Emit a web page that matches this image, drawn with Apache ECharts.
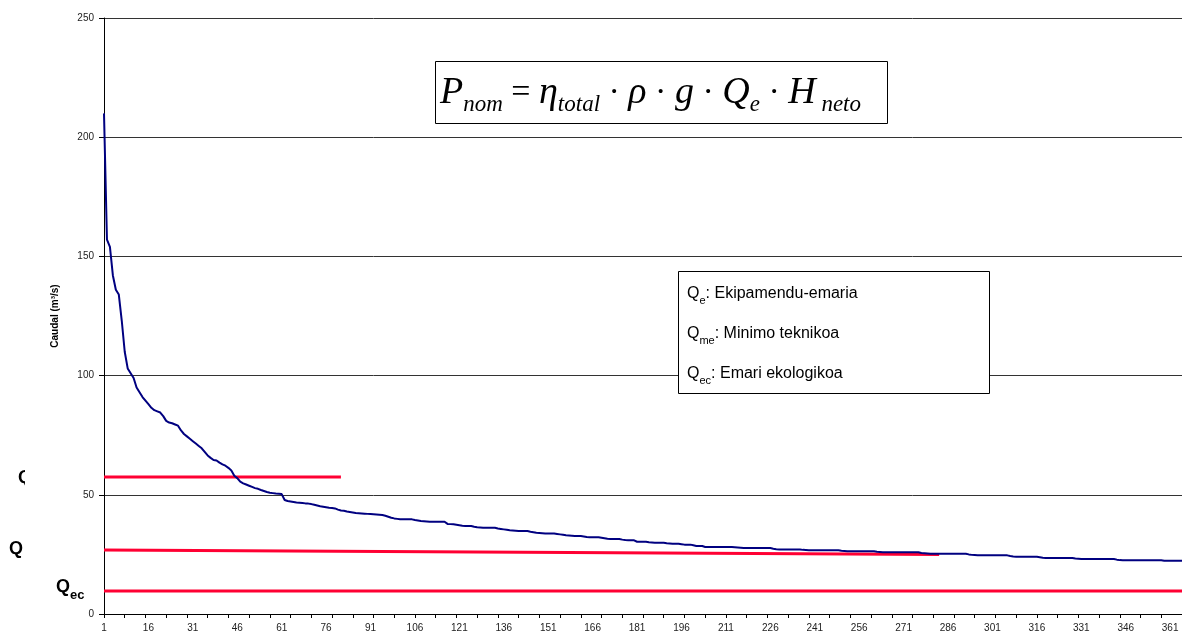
<!DOCTYPE html>
<html>
<head>
<meta charset="utf-8">
<script src="https://cdn.jsdelivr.net/npm/echarts@6/dist/echarts.min.js"></script>
<style>
  html, body { margin: 0; padding: 0; background: #fff; }
  #chart { width: 1182px; height: 638px; }
</style>
</head>
<body>
<div id="chart"></div>
<script>
// day numbers of the year (x axis categories)
const days = Array.from({length: 365}, (_, i) => String(i + 1));

// flow duration curve, m3/s (one value per day)
const caudal = [
  210,157,154,142,136,134,123,110,103,101,
  99,95,93,91,89.5,88,86.5,85.5,85,84.5,
  83,81,80.3,80,79.5,79,77,75.5,74.5,73.5,
  72.5,71.5,70.5,69.5,68,66.5,65.5,64.6,64.4,63.5,
  62.8,62.2,61.3,60.2,58,57,55.5,54.8,54.3,53.8,
  53.3,52.8,52.5,52,51.6,51.2,50.9,50.7,50.5,50.4,
  50.3,47.8,47.4,47.2,47,46.8,46.7,46.6,46.4,46.3,
  46.1,45.8,45.5,45.2,45,44.8,44.6,44.5,44.3,43.8,
  43.4,43.3,43,42.8,42.6,42.4,42.3,42.2,42.1,42,
  41.9,41.8,41.7,41.6,41.5,41.2,40.8,40.4,40.1,39.9,
  39.7,39.7,39.7,39.7,39.7,39.4,39.2,39,38.9,38.8,
  38.7,38.7,38.7,38.7,38.7,38.7,37.8,37.7,37.6,37.4,
  37.2,37,36.9,36.9,36.9,36.6,36.4,36.3,36.2,36.2,
  36.2,36.2,36.2,35.9,35.7,35.5,35.3,35.1,35,34.9,
  34.8,34.8,34.8,34.8,34.5,34.3,34.1,34,33.9,33.8,
  33.8,33.8,33.8,33.6,33.4,33.2,33,32.9,32.8,32.7,
  32.7,32.7,32.5,32.3,32.2,32.2,32.2,32.2,32,31.8,
  31.6,31.5,31.5,31.5,31.5,31.2,31,30.9,30.9,30.9,
  30.3,30.3,30.3,30.3,30.1,30,29.9,29.9,29.9,29.9,
  29.7,29.6,29.5,29.5,29.5,29.3,29.1,29.1,29.1,28.8,
  28.5,28.5,28.5,28.1,28.1,28.1,28.1,28.1,28.1,28.1,
  28.1,28.1,28.1,28,27.9,27.8,27.7,27.7,27.7,27.7,
  27.7,27.7,27.7,27.7,27.7,27.7,27.4,27.2,27.1,27.1,
  27.1,27.1,27.1,27.1,27.1,27.1,26.9,26.8,26.7,26.7,
  26.7,26.7,26.7,26.7,26.7,26.7,26.7,26.7,26.7,26.5,
  26.4,26.3,26.3,26.3,26.3,26.3,26.3,26.3,26.3,26.3,
  26.3,26.1,26,25.9,25.9,25.9,25.9,25.9,25.9,25.9,
  25.9,25.9,25.9,25.9,25.9,25.9,25.6,25.5,25.4,25.3,
  25.3,25.3,25.3,25.3,25.3,25.3,25.3,25.3,25.3,25.3,
  25.3,25.3,25,24.8,24.7,24.6,24.6,24.6,24.6,24.6,
  24.6,24.6,24.6,24.6,24.6,24.6,24.3,24.1,24,24,
  24,24,24,24,24,24,23.8,23.6,23.5,23.5,
  23.5,23.5,23.5,23.5,23.5,23.5,23.5,23.5,23.3,23.2,
  23.1,23.1,23.1,23.1,23.1,23.1,23.1,23.1,23.1,23.1,
  23.1,23.1,22.8,22.6,22.5,22.5,22.5,22.5,22.5,22.5,
  22.5,22.5,22.5,22.5,22.5,22.5,22.5,22.5,22.3,22.3,
  22.3,22.3,22.3,22.3,22.3
];

// red reference lines [day, value]
const qeLine  = [['1', 57.5], ['81', 57.5]];
const qmeLine = [['1', 26.8], ['283', 25.0]];
const qecLine = [['1', 9.6], ['365', 9.6]];

const yTicks = {min: 0, max: 250, interval: 50};

const myChart = echarts.init(document.getElementById('chart'));
const font = 'Liberation Sans, Arial, sans-serif';
const serif = 'Liberation Serif, Times New Roman, serif';

const redLine = {
  type: 'line',
  symbol: 'none',
  silent: true,
  lineStyle: {color: '#ff0033', width: 3},
  z: 3
};

let option = {
  animation: false,
  backgroundColor: '#fff',
  grid: {
    left: 104,
    right: 0,
    top: 18,
    bottom: 24,
    outerBoundsMode: 'none'
  },
  xAxis: {
    type: 'category',
    data: days,
    boundaryGap: false,
    axisLine: {lineStyle: {color: '#000', width: 1}},
    axisTick: {
      interval: 6,
      length: 4,
      lineStyle: {color: '#000'}
    },
    axisLabel: {
      interval: 14,
      color: '#222',
      fontFamily: font,
      fontSize: 10,
      margin: 9
    },
    splitLine: {show: false}
  },
  yAxis: {
    type: 'value',
    min: yTicks.min,
    max: yTicks.max,
    interval: yTicks.interval,
    name: 'Caudal (m³/s)',
    nameLocation: 'middle',
    nameGap: 44,
    nameTextStyle: {
      color: '#000',
      fontFamily: font,
      fontSize: 10,
      fontWeight: 'bold'
    },
    axisLine: {show: true, lineStyle: {color: '#000'}},
    axisTick: {show: true, length: 5, lineStyle: {color: '#000'}},
    axisLabel: {
      color: '#222',
      fontFamily: font,
      fontSize: 10,
      margin: 10
    },
    splitLine: {lineStyle: {color: '#333', width: 1}}
  },
  series: [
    {
      name: 'Caudal',
      type: 'line',
      data: caudal,
      symbol: 'none',
      lineStyle: {color: '#000080', width: 2},
      z: 4
    },
    Object.assign({name: 'Qe', data: qeLine}, redLine),
    Object.assign({name: 'Qme', data: qmeLine}, redLine),
    Object.assign({name: 'Qec', data: qecLine}, redLine)
  ],
  graphic: [
    // formula box
    {
      type: 'rect',
      left: 435, top: 61,
      shape: {width: 452, height: 62},
      style: {fill: '#fff', stroke: '#000', lineWidth: 1},
      z: 10
    },
    {
      type: 'text',
      left: 440, top: 74,
      style: {
        text: '{m|P}{s|nom}{o| = }{m|η}{s|total}{o| · }{m|ρ}{o| · }{m|g}{o| · }{m|Q}{s|e}{o| · }{m|H}{s| neto}',
        rich: {
          m: {fontFamily: serif, fontStyle: 'italic', fontSize: 38, lineHeight: 46, verticalAlign: 'middle', fill: '#000'},
          o: {fontFamily: serif, fontSize: 34, lineHeight: 46, verticalAlign: 'middle', fill: '#000'},
          s: {fontFamily: serif, fontStyle: 'italic', fontSize: 23, lineHeight: 20, verticalAlign: 'bottom', fill: '#000'}
        }
      },
      z: 11
    },
    // legend box
    {
      type: 'rect',
      left: 678, top: 271,
      shape: {width: 311, height: 122},
      style: {fill: '#fff', stroke: '#000', lineWidth: 1},
      z: 10
    },
    {
      type: 'text',
      left: 687, top: 286,
      style: {
        text: '{t|Q}{s|e}{t|: Ekipamendu-emaria}\n{t|Q}{s|me}{t|: Minimo teknikoa}\n{t|Q}{s|ec}{t|: Emari ekologikoa}',
        rich: {
          t: {fontFamily: font, fontSize: 16, lineHeight: 40, verticalAlign: 'middle', fill: '#000'},
          s: {fontFamily: font, fontSize: 11, lineHeight: 16, verticalAlign: 'bottom', fill: '#000', padding: [0, 0, 8, 0]}
        }
      },
      z: 11
    },
    // left side labels
    {
      type: 'text',
      left: 18, top: 469,
      style: {text: 'Q', fontFamily: font, fontSize: 18, fontWeight: 'bold', fill: '#000'},
      z: 10
    },
    {
      type: 'rect',
      left: 25, top: 460,
      shape: {width: 40, height: 30},
      style: {fill: '#fff'},
      z: 12
    },
    {
      type: 'text',
      left: 9, top: 540,
      style: {text: 'Q', fontFamily: font, fontSize: 18, fontWeight: 'bold', fill: '#000'},
      z: 10
    },
    {
      type: 'text',
      left: 56, top: 578,
      style: {
        text: '{q|Q}{s|ec}',
        rich: {
          q: {fontFamily: font, fontSize: 18, fontWeight: 'bold', lineHeight: 22, verticalAlign: 'middle', fill: '#000'},
          s: {fontFamily: font, fontSize: 13, fontWeight: 'bold', lineHeight: 14, verticalAlign: 'bottom', fill: '#000', padding: [0, 0, -4, 0]}
        }
      },
      z: 10
    }
  ]
};

myChart.setOption(option);
window.addEventListener('resize', () => myChart.resize());
</script>
</body>
</html>
